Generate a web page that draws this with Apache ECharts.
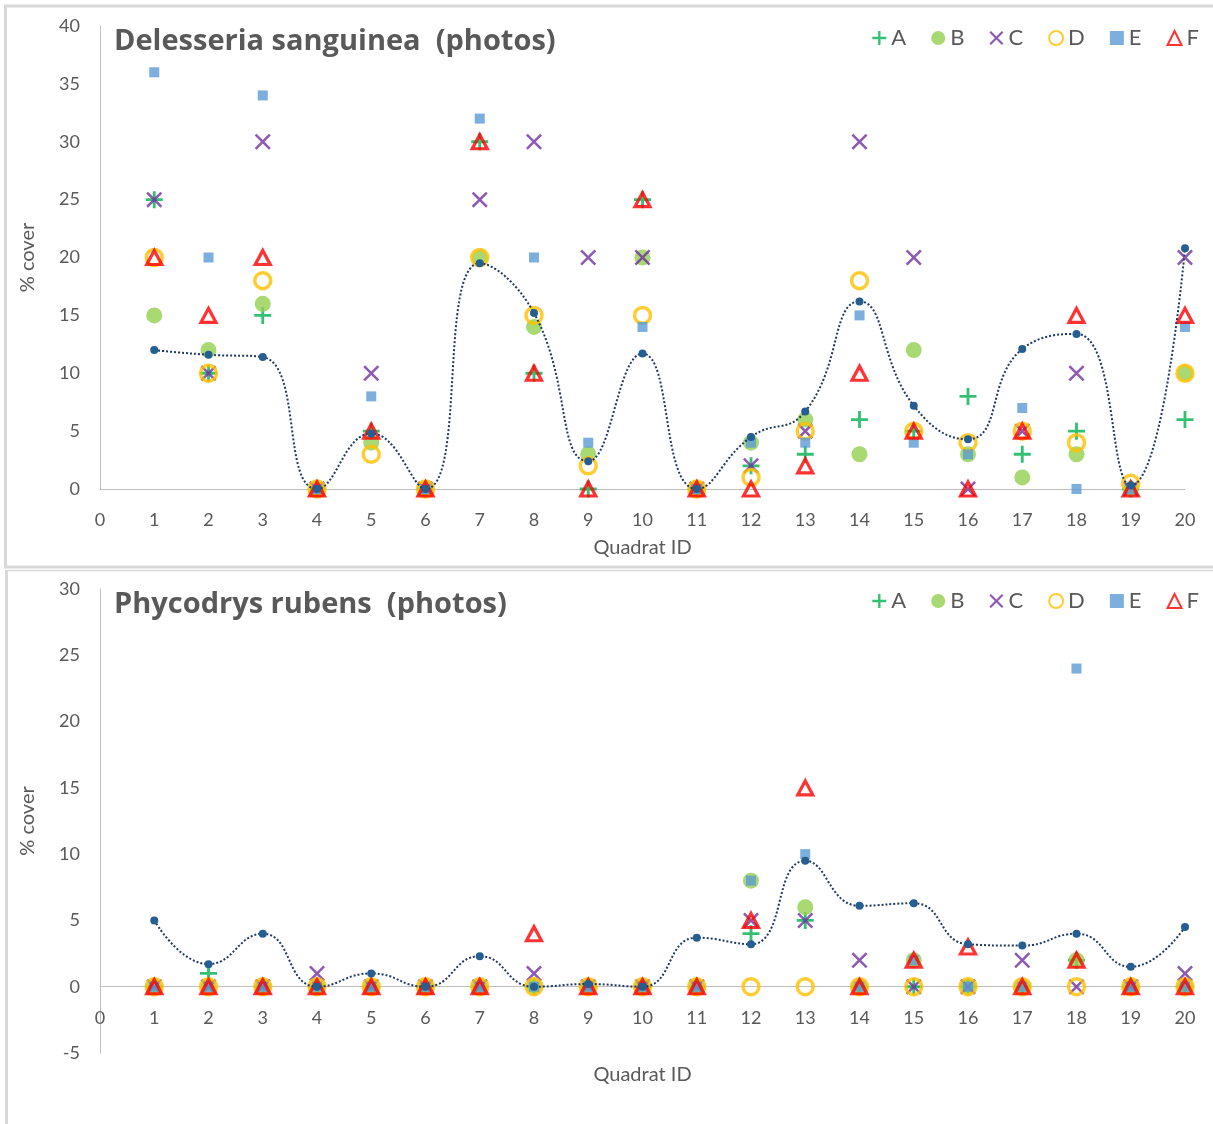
<!DOCTYPE html>
<html>
<head>
<meta charset="utf-8">
<script src="https://cdn.jsdelivr.net/npm/echarts@6/dist/echarts.min.js"></script>
<style>
html,body{margin:0;padding:0;background:#fff;}
#chart{width:1213px;height:1124px;}
</style>
</head>
<body>
<div id="chart"></div>
<script>
// ---------- data ----------
const quadrats = [1,2,3,4,5,6,7,8,9,10,11,12,13,14,15,16,17,18,19,20];
const seriesNames = ['A','B','C','D','E','F'];

// Delesseria sanguinea (photos)
const delA = [25,10,15,0,5,0,30,10,0,25,0,2,3,6,5,8,3,5,0,6];
const delB = [15,12,16,0,4,0,20,14,3,20,0,4,6,3,12,3,1,3,0,10];
const delC = [25,10,30,0,10,0,25,30,20,20,0,2,5,30,20,0,5,10,0,20];
const delD = [20,10,18,0,3,0,20,15,2,15,0,1,5,18,5,4,5,4,0.5,10];
const delE = [36,20,34,0,8,0,32,20,4,14,0,4,4,15,4,3,7,0,0,14];
const delF = [20,15,20,0,5,0,30,10,0,25,0,0,2,10,5,0,5,15,0,15];
const delTrend = [12,11.6,11.4,0,4.8,0,19.5,15.2,2.4,11.7,0,4.5,6.7,16.2,7.2,4.3,12.1,13.4,0.3,20.8];

// Phycodrys rubens (photos)
const phyA = [0,1,0,0,0,0,0,0,0,0,0,4,5,0,0,0,0,2,0,0];
const phyB = [0,0,0,0,0,0,0,0,0,0,0,8,6,0,2,0,0,2,0,0];
const phyC = [0,0,0,1,0,0,0,1,0,0,0,5,5,2,0,0,2,0,0,1];
const phyD = [0,0,0,0,0,0,0,0,0,0,0,0,0,0,0,0,0,0,0,0];
const phyE = [0,0,0,0,0,0,0,0,0,0,0,8,10,0,2,0,0,24,0,0];
const phyF = [0,0,0,0,0,0,0,4,0,0,0,5,15,0,2,3,0,2,0,0];
const phyTrend = [5,1.7,4.0,0,1.0,0,2.3,0,0.2,0,3.7,3.2,9.5,6.1,6.3,3.2,3.1,4.0,1.5,4.5];

const titles = ['Delesseria sanguinea  (photos)', 'Phycodrys rubens  (photos)'];
const xTicks = {min:0, max:20, interval:1};
const yTicksTop = {min:0, max:40, interval:5};
const yTicksBottom = {min:-5, max:30, interval:5};

// ---------- styles ----------
const FONT = 'Lato, "Open Sans", sans-serif';
const TITLE_FONT = '"Open Sans", Lato, sans-serif';
const GRAY = '#595959';
const AXIS = '#BFBFBF';
const PLUS = 'path://M5,0H7V5H12V7H7V12H5V7H0V5H5Z';
const CROSS = 'path://M0,2.2L2.2,0L10,7.8L17.8,0L20,2.2L12.2,10L20,17.8L17.8,20L10,12.2L2.2,20L0,17.8L7.8,10Z';
const markerStyles = {
  A: {symbol: PLUS, symbolSize: 17, itemStyle: {color: '#00B050'}},
  B: {symbol: 'circle', symbolSize: 16, itemStyle: {color: '#92D050'}},
  C: {symbol: CROSS, symbolSize: 16, itemStyle: {color: '#7030A0'}},
  D: {symbol: 'circle', symbolSize: 16, itemStyle: {color: 'rgba(255,255,255,0)', borderColor: '#FFC000', borderWidth: 3.5}},
  E: {symbol: 'rect', symbolSize: 10, itemStyle: {color: '#5B9BD5'}},
  F: {symbol: 'triangle', symbolSize: [15, 14], itemStyle: {color: 'rgba(255,255,255,0)', borderColor: '#FF0000', borderWidth: 3.2}}
};

function pairs(vals) { return quadrats.map((q, i) => [q, vals[i]]); }

function buildSeries(idx, sets, trend) {
  const out = [];
  out.push({
    name: 'trend' + idx, type: 'line', xAxisIndex: idx, yAxisIndex: idx,
    data: pairs(trend), smooth: 0.5, symbol: 'circle', symbolSize: 8,
    itemStyle: {color: '#255E91'},
    lineStyle: {color: '#1F3864', width: 2, type: 'dotted'},
    emphasis: {disabled: true}, animation: false
  });
  seriesNames.forEach((n, k) => {
    const st = markerStyles[n];
    out.push({
      name: n, type: 'scatter', xAxisIndex: idx, yAxisIndex: idx,
      data: pairs(sets[k]), symbol: st.symbol, symbolSize: st.symbolSize,
      itemStyle: st.itemStyle, emphasis: {disabled: true}, animation: false
    });
  });
  return out;
}

function xAxis(idx, gap, show, margin) {
  return {
    gridIndex: idx, type: 'value', min: xTicks.min, max: xTicks.max, interval: xTicks.interval,
    show: show,
    name: 'Quadrat ID', nameLocation: 'middle', nameGap: gap,
    nameTextStyle: {fontFamily: FONT, fontSize: 20, color: GRAY},
    axisLine: {show: true, onZero: false, lineStyle: {color: AXIS, width: 1}},
    axisTick: {show: false}, splitLine: {show: false},
    axisLabel: {fontFamily: FONT, fontSize: 18, color: GRAY, margin: margin}
  };
}
function yAxis(idx, t, show) {
  return {
    gridIndex: idx, type: 'value', min: t.min, max: t.max, interval: t.interval,
    show: show,
    name: '% cover', nameLocation: 'middle', nameGap: 62, nameRotate: 90,
    nameTextStyle: {fontFamily: FONT, fontSize: 20, color: GRAY},
    axisLine: {show: true, lineStyle: {color: AXIS, width: 1}},
    axisTick: {show: false}, splitLine: {show: false},
    axisLabel: {fontFamily: FONT, fontSize: 18, color: GRAY, margin: 20}
  };
}
function legend(top) {
  return {
    data: seriesNames, right: 9, top: top, itemWidth: 14, itemHeight: 14, itemGap: 25,
    textStyle: {fontFamily: FONT, fontSize: 22, color: GRAY}, selectedMode: false
  };
}

const chart = echarts.init(document.getElementById('chart'), null, {renderer: 'canvas'});
chart.setOption({
  animation: false,
  backgroundColor: '#fff',
  title: [
    {text: titles[0], left: 109, top: 22, textStyle: {fontFamily: TITLE_FONT, fontWeight: 'bold', fontSize: 29, color: GRAY}},
    {text: titles[1], left: 109, top: 585, textStyle: {fontFamily: TITLE_FONT, fontWeight: 'bold', fontSize: 29, color: GRAY}}
  ],
  legend: [legend(22), legend(585)],
  grid: [
    {left: 100, top: 26, width: 1085, height: 463, outerBoundsMode: 'none'},
    {left: 100, top: 589, width: 1085, height: 464, outerBoundsMode: 'none'},
    {left: 100, top: 589, width: 1085, height: 397, outerBoundsMode: 'none'}
  ],
  xAxis: [xAxis(0, 49, true, 22), xAxis(1, 79, false, 22), xAxis(2, 79, true, 23)],
  yAxis: [yAxis(0, yTicksTop, true), yAxis(1, yTicksBottom, true), yAxis(2, {min: 0, max: 30, interval: 5}, false)],
  graphic: [
    {type: 'rect', silent: true, shape: {x: 5.5, y: 6, width: 1230, height: 561},
     style: {fill: 'none', stroke: '#D9D9D9', lineWidth: 3}},
    {type: 'line', silent: true, shape: {x1: 6, y1: 570.5, x2: 1213, y2: 570.5},
     style: {stroke: '#D9D9D9', lineWidth: 1.5}},
    {type: 'line', silent: true, shape: {x1: 6.5, y1: 570, x2: 6.5, y2: 1124},
     style: {stroke: '#D9D9D9', lineWidth: 3}}
  ],
  series: [].concat(
    buildSeries(0, [delA, delB, delC, delD, delE, delF], delTrend),
    buildSeries(1, [phyA, phyB, phyC, phyD, phyE, phyF], phyTrend)
  )
});
</script>
</body>
</html>
